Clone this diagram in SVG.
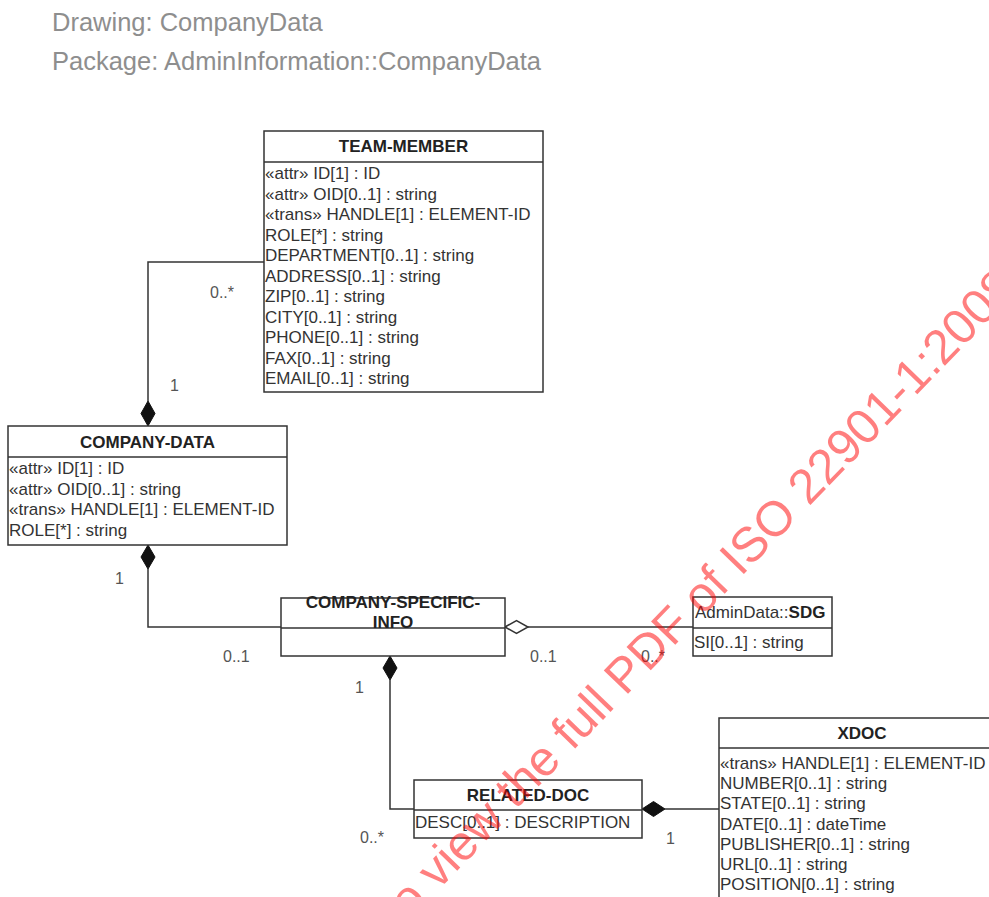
<svg xmlns="http://www.w3.org/2000/svg" width="989" height="897" viewBox="0 0 989 897">
<style>
  .hdr { font-family: "Liberation Sans", Arial, sans-serif; font-size: 25.5px; fill: #8e8e8e; }
  .box { fill: #ffffff; stroke: #333333; stroke-width: 1.5; }
  .sep { stroke: #333333; stroke-width: 1.5; }
  .ttl { font-family: "Liberation Sans", Arial, sans-serif; font-size: 17px; font-weight: bold; fill: #222222; text-anchor: middle; }
  .att { font-family: "Liberation Sans", Arial, sans-serif; font-size: 17px; fill: #333333; }
  .b { font-weight: bold; fill: #222222; }
  .ln { fill: none; stroke: #333333; stroke-width: 1.5; }
  .dia { fill: #111111; stroke: #111111; stroke-width: 1; }
  .odia { fill: #ffffff; stroke: #333333; stroke-width: 1.5; }
  .mul { font-family: "Liberation Sans", Arial, sans-serif; font-size: 16px; fill: #555555; }
  .wm { font-family: "Liberation Sans", Arial, sans-serif; font-size: 49px; fill: #ff0000; fill-opacity: 0.5; }
</style>
<rect x="0" y="0" width="989" height="897" fill="#ffffff"/>
<g id="header">
  <text class="hdr" x="52" y="31">Drawing: CompanyData</text>
  <text class="hdr" x="52" y="70">Package: AdminInformation::CompanyData</text>
</g>
<g id="connectors">
  <polyline class="ln" points="264,262 148,262 148,401"/>
  <polygon class="dia" points="148,401 141,413.5 148,426 155,413.5"/>
  <polygon class="dia" points="148,545 141,557 148,569 155,557"/>
  <polyline class="ln" points="148,569 148,627 281,627"/>
  <polygon class="odia" points="505,627 516.5,620.5 528,627 516.5,633.5"/>
  <line class="ln" x1="528" y1="627" x2="693" y2="627"/>
  <polygon class="dia" points="390,656 383,668 390,680 397,668"/>
  <polyline class="ln" points="390,680 390,809 414,809"/>
  <polygon class="dia" points="642,809 653.5,801.5 665,809 653.5,816.5"/>
  <line class="ln" x1="665" y1="809" x2="719" y2="809"/>
  <text class="mul" x="210" y="298">0..*</text>
  <text class="mul" x="170" y="391">1</text>
  <text class="mul" x="115" y="584">1</text>
  <text class="mul" x="223" y="662">0..1</text>
  <text class="mul" x="530" y="662">0..1</text>
  <text class="mul" x="641" y="662">0..*</text>
  <text class="mul" x="355" y="693">1</text>
  <text class="mul" x="360" y="843">0..*</text>
  <text class="mul" x="666" y="844">1</text>
</g>
<g id="team-member">
  <rect class="box" x="264" y="131" width="279" height="261"/>
  <line class="sep" x1="264" y1="162" x2="543" y2="162"/>
  <text class="ttl" x="403.5" y="152">TEAM-MEMBER</text>
  <text class="att" x="265" y="179">«attr» ID[1] : ID</text>
  <text class="att" x="265" y="199.5">«attr» OID[0..1] : string</text>
  <text class="att" x="265" y="220">«trans» HANDLE[1] : ELEMENT-ID</text>
  <text class="att" x="265" y="240.5">ROLE[*] : string</text>
  <text class="att" x="265" y="261">DEPARTMENT[0..1] : string</text>
  <text class="att" x="265" y="281.5">ADDRESS[0..1] : string</text>
  <text class="att" x="265" y="302">ZIP[0..1] : string</text>
  <text class="att" x="265" y="322.5">CITY[0..1] : string</text>
  <text class="att" x="265" y="343">PHONE[0..1] : string</text>
  <text class="att" x="265" y="363.5">FAX[0..1] : string</text>
  <text class="att" x="265" y="384">EMAIL[0..1] : string</text>
</g>
<g id="company-data">
  <rect class="box" x="8" y="426" width="279" height="119"/>
  <line class="sep" x1="8" y1="457" x2="287" y2="457"/>
  <text class="ttl" x="147.5" y="448">COMPANY-DATA</text>
  <text class="att" x="9" y="474">«attr» ID[1] : ID</text>
  <text class="att" x="9" y="494.5">«attr» OID[0..1] : string</text>
  <text class="att" x="9" y="515">«trans» HANDLE[1] : ELEMENT-ID</text>
  <text class="att" x="9" y="535.5">ROLE[*] : string</text>
</g>
<g id="company-specific-info">
  <rect class="box" x="281" y="598" width="224" height="58"/>
  <line class="sep" x1="281" y1="628" x2="505" y2="628"/>
  <text class="ttl" x="393" y="608">COMPANY-SPECIFIC-</text>
  <text class="ttl" x="393" y="628">INFO</text>
</g>
<g id="sdg">
  <rect class="box" x="693" y="597" width="139" height="59"/>
  <line class="sep" x1="693" y1="628" x2="832" y2="628"/>
  <text class="att" x="695" y="618">AdminData::<tspan class="b">SDG</tspan></text>
  <text class="att" x="694" y="648">SI[0..1] : string</text>
</g>
<g id="related-doc">
  <rect class="box" x="414" y="780" width="228" height="58"/>
  <line class="sep" x1="414" y1="810" x2="642" y2="810"/>
  <text class="ttl" x="528" y="801">RELATED-DOC</text>
  <text class="att" x="415" y="828">DESC[0..1] : DESCRIPTION</text>
</g>
<g id="xdoc">
  <rect class="box" x="719" y="718" width="290" height="190"/>
  <line class="sep" x1="719" y1="748" x2="1009" y2="748"/>
  <text class="ttl" x="862" y="739">XDOC</text>
  <text class="att" x="720" y="769">«trans» HANDLE[1] : ELEMENT-ID</text>
  <text class="att" x="720" y="789">NUMBER[0..1] : string</text>
  <text class="att" x="720" y="809">STATE[0..1] : string</text>
  <text class="att" x="720" y="829.5">DATE[0..1] : dateTime</text>
  <text class="att" x="720" y="850">PUBLISHER[0..1] : string</text>
  <text class="att" x="720" y="870">URL[0..1] : string</text>
  <text class="att" x="720" y="890">POSITION[0..1] : string</text>
</g>
<g id="watermark">
  <text class="wm" x="317" y="1016" transform="rotate(-46 317 1016)">Click to view the full PDF of ISO 22901-1:2008</text>
</g>
</svg>
